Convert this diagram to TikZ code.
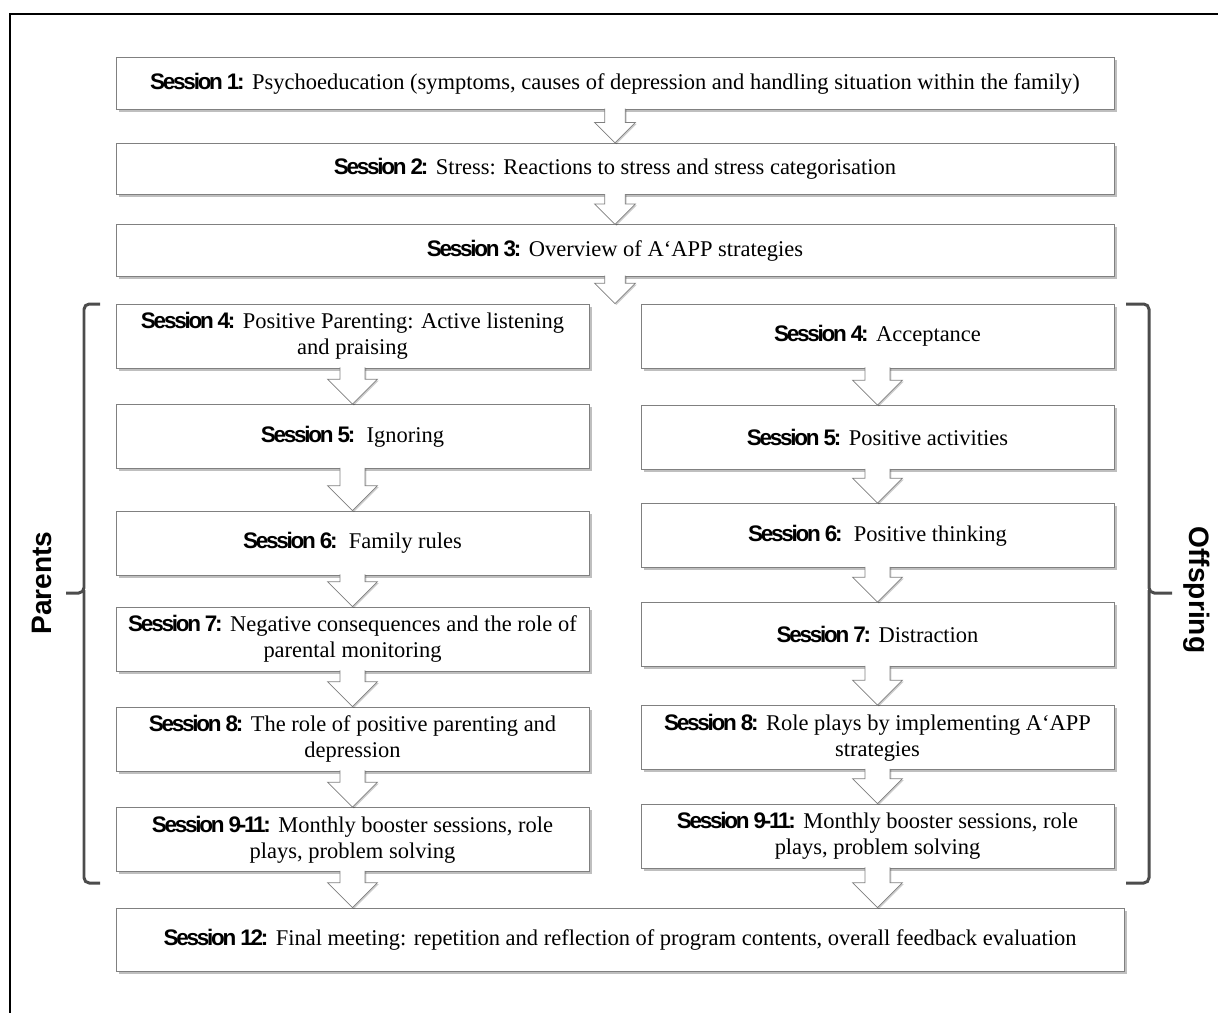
\documentclass[tikz,border=0pt]{standalone}
\usepackage{fontspec}
\setmainfont{Liberation Serif}
\setsansfont{Liberation Sans}
\newfontfamily\sesslabelfont[LetterSpace=-10]{Liberation Sans}
\usetikzlibrary{calc,shadows}

\newcommand{\sess}[1]{{\sesslabelfont\bfseries #1}}

\tikzset{
  softshadow/.style={drop shadow={shadow xshift=1.5pt, shadow yshift=-1.5pt, opacity=0.25, fill=black}},
  session/.style={draw=gray, fill=white, align=center, inner sep=2pt, softshadow,
    font=\fontsize{12.8}{14.7}\selectfont},
  fullbox/.style={session, minimum width=19.96cm, minimum height=1.03cm},
  halfbox/.style={session, minimum width=9.46cm, minimum height=1.28cm},
  blockarrow/.style={draw=gray, fill=white,
    drop shadow={shadow xshift=0.8pt, shadow yshift=-0.8pt, opacity=0.2, fill=black}},
  bracket/.style={draw=black!70, line width=1.7pt, rounded corners=3pt},
  side/.style={font=\sffamily\bfseries\fontsize{16}{19}\selectfont}
}

% block arrow from one box down to the next
\newcommand{\blockarr}[3][1]{%
  \path[blockarrow] let \p1=(#2), \p2=(#3) in
    (\x1-7.1pt*#1,\y1+0.6pt) -- (\x1-7.1pt*#1,\y2+14.2pt*#1) -- (\x1-14.2pt*#1,\y2+14.2pt*#1)
    -- (\x1,\y2) -- (\x1+14.2pt*#1,\y2+14.2pt*#1) -- (\x1+7.1pt*#1,\y2+14.2pt*#1)
    -- (\x1+7.1pt*#1,\y1+0.6pt);
}

\begin{document}
\begin{tikzpicture}[x=0.02cm, y=-0.02cm]
\useasboundingbox (0,0) rectangle (1218,1012);
\clip (0,0) rectangle (1218,1012);

% Frame
\draw[line width=1.1pt] (10,14) rectangle (1240,1030);

% Common sessions
\node[fullbox] (s1) at (615,83.5) {\sess{Session 1:} Psychoeducation (symptoms, causes of depression and handling situation within the family)};
\node[fullbox] (s2) at (615,169) {\sess{Session 2:} Stress: Reactions to stress and stress categorisation};
\node[fullbox] (s3) at (615,250.5) {\sess{Session 3:} Overview of A‘APP strategies};

% Parents
\node[halfbox] (p4) at (352.5,336) {\sess{Session 4:} Positive Parenting: Active listening\\and praising};
\node[halfbox] (p5) at (352.5,436.5) {\sess{Session 5:}\ \ Ignoring};
\node[halfbox] (p6) at (352.5,543) {\sess{Session 6:}\ \ Family rules};
\node[halfbox] (p7) at (352.5,639) {\sess{Session 7:} Negative consequences and the role of\\parental monitoring};
\node[halfbox] (p8) at (352.5,739) {\sess{Session 8:} The role of positive parenting and\\depression};
\node[halfbox] (p9) at (352.5,839.5) {\sess{Session 9-11:} Monthly booster sessions, role\\plays, problem solving};

% Offspring
\node[halfbox] (o4) at (877.5,336) {\sess{Session 4:} Acceptance};
\node[halfbox] (o5) at (877.5,437.5) {\sess{Session 5:} Positive activities};
\node[halfbox] (o6) at (877.5,535.5) {\sess{Session 6:}\ \ Positive thinking};
\node[halfbox] (o7) at (877.5,634.5) {\sess{Session 7:} Distraction};
\node[halfbox] (o8) at (877.5,737.5) {\sess{Session 8:} Role plays by implementing A‘APP\\strategies};
\node[halfbox] (o9) at (877.5,836) {\sess{Session 9-11:} Monthly booster sessions, role\\plays, problem solving};

% Final session
\node[session, minimum width=20.16cm, minimum height=1.26cm] (s12) at (620,939.5) {\sess{Session 12:} Final meeting: repetition and reflection of program contents, overall feedback evaluation};

% Arrows
\blockarr[0.82]{s1.south}{s2.north}
\blockarr[0.82]{s2.south}{s3.north}
\blockarr[0.82]{s3.south}{s3.south |- p4.north}
\foreach \a/\b in {4/5, 5/6, 6/7, 7/8, 8/9} {
  \blockarr{p\a.south}{p\b.north}
  \blockarr{o\a.south}{o\b.north}
}
\blockarr{p9.south}{p9.south |- s12.north}
\blockarr{o9.south}{o9.south |- s12.north}

% Brackets
\draw[bracket] (100,304) -| (84,593) -- (66,593);
\draw[bracket] (84,590) |- (100,883);
\draw[bracket] (1126,304) -| (1149,593) -- (1172,593);
\draw[bracket] (1149,590) |- (1126,883);

% Group labels
\node[side, rotate=90] (parents) at (42,583) {Parents};
\node[side, rotate=-90] (offspring) at (1197,590) {Offspring};
\end{tikzpicture}
\end{document}
